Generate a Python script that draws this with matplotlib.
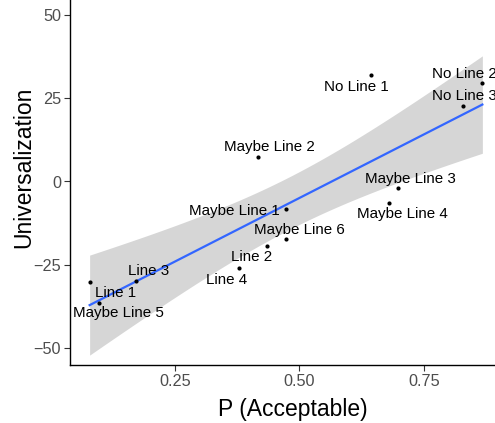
import numpy as np
import matplotlib
matplotlib.use("Agg")
import matplotlib.pyplot as plt

labels = ["Line 1", "Maybe Line 5", "Line 3", "Maybe Line 2", "Maybe Line 1",
          "Maybe Line 6", "Line 2", "Line 4", "No Line 1", "No Line 2",
          "No Line 3", "Maybe Line 3", "Maybe Line 4"]
p_accept = [0.078, 0.097, 0.172, 0.416, 0.473, 0.473, 0.435, 0.379, 0.643,
            0.868, 0.830, 0.699, 0.680]
univ = [-30.2, -36.4, -29.9, 7.3, -8.2, -17.4, -19.3, -26.0, 32.1, 29.7,
        22.7, -1.9, -6.4]
xticks = [0.25, 0.50, 0.75]
yticks = [-50, -25, 0, 25, 50]

# label offsets in pixels (dx, dy, ha)
offsets = {
    "Line 1": (26, -11, "center"),
    "Maybe Line 5": (19, -10, "center"),
    "Line 3": (12, 10, "center"),
    "Maybe Line 2": (12, 10, "center"),
    "Maybe Line 1": (-52, -2, "center"),
    "Maybe Line 6": (13, 9, "center"),
    "Line 2": (-16, -11, "center"),
    "Line 4": (-13, -12, "center"),
    "No Line 1": (-14, -12, "center"),
    "No Line 2": (-50, 9, "left"),
    "No Line 3": (-31, 10, "left"),
    "Maybe Line 3": (12, 9, "center"),
    "Maybe Line 4": (14, -11, "center"),
}

plt.rcParams['font.family'] = ['Liberation Sans', 'DejaVu Sans']

x = np.array(p_accept)
y = np.array(univ)
n = len(x)
b, a = np.polyfit(x, y, 1)
resid = y - (a + b * x)
s = np.sqrt(np.sum(resid ** 2) / (n - 2))
xbar = x.mean()
sxx = np.sum((x - xbar) ** 2)
tval = 2.201  # t(0.975, df=11)
xs = np.linspace(x.min(), x.max(), 80)
ys = a + b * xs
se = s * np.sqrt(1.0 / n + (xs - xbar) ** 2 / sxx)

fig = plt.figure(figsize=(4.95, 4.23), dpi=100)
ax_w = 432 / 495
ax_h = 366.4 / 423
ax = fig.add_axes([70 / 495, 1 - 364.7 / 423, ax_w, ax_h])

ax.fill_between(xs, ys - tval * se, ys + tval * se, color="#999999", alpha=0.4,
                linewidth=0, zorder=1)
ax.plot(xs, ys, color="#3366FF", linewidth=1.6, zorder=2)
ax.scatter(x, y, s=9, color="black", zorder=3, linewidths=0)

for lab, xi, yi in zip(labels, x, y):
    dx, dy, ha = offsets[lab]
    ax.annotate(lab, (xi, yi), xytext=(dx, dy), textcoords="offset pixels",
                ha=ha, va="center", fontsize=10.9, color="black", zorder=4,
                annotation_clip=False)

rng = x.max() - x.min()
ax.set_xlim(x.min() - 0.05 * rng, x.max() + 0.05 * rng)
ax.set_ylim(-55, 55)
ax.set_xticks(xticks)
ax.set_xticklabels([f"{t:.2f}" for t in xticks])
ax.set_yticks(yticks)
ax.set_yticklabels([str(t).replace("-", "\u2212") for t in yticks])

for sp in ["top", "right"]:
    ax.spines[sp].set_visible(False)
for sp in ["left", "bottom"]:
    ax.spines[sp].set_linewidth(1.0)
    ax.spines[sp].set_color("black")

ax.tick_params(axis="both", length=4, width=0.8, color="#333333",
               labelcolor="#4D4D4D", labelsize=11.7, pad=2.5)

ax.set_xlabel("P (Acceptable)", fontsize=16.5, color="black", va="center")
ax.set_ylabel("Universalization", fontsize=16.5, color="black", va="center")
ax.xaxis.set_label_coords((293 - 70) / 432, (364.7 - 409) / 366.4)
ax.yaxis.set_label_coords((24 - 70) / 432, (364.7 - 167) / 366.4)

fig.savefig("out.png", dpi=100)
